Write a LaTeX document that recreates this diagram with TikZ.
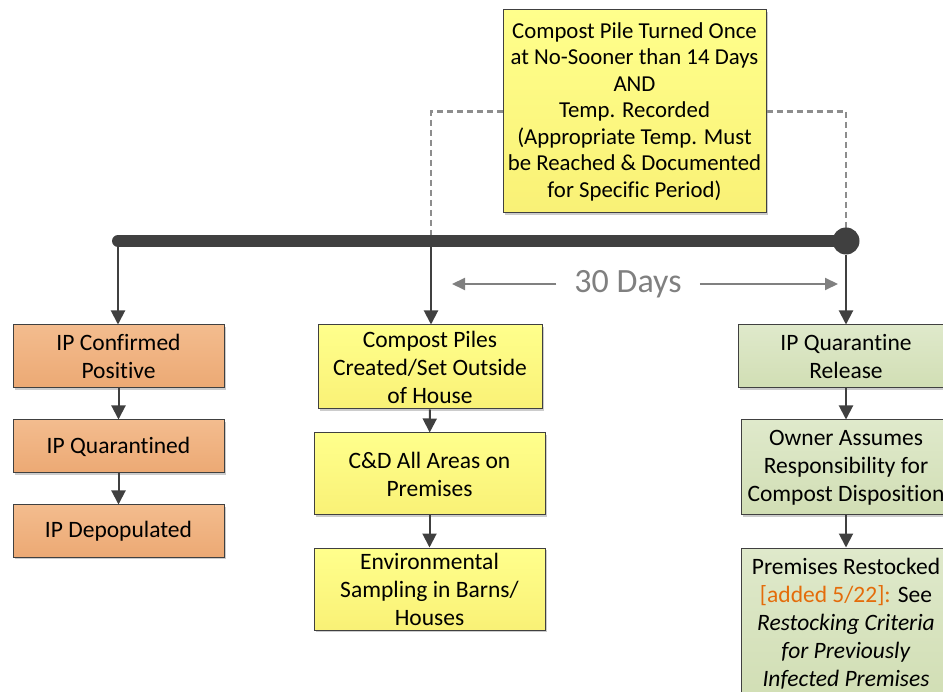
\documentclass[tikz,border=0pt]{standalone}
\usepackage{fontspec}
\setmainfont{Carlito}[Ligatures={NoCommon}]
\usepackage{tikz}
\usetikzlibrary{arrows.meta, positioning, calc, shadows}
\definecolor{LineGray}{HTML}{404040}
\definecolor{SoftGray}{HTML}{808080}
\definecolor{OrangeTop}{HTML}{F3BC8E}
\definecolor{OrangeBot}{HTML}{ECA974}
\definecolor{YellowTop}{HTML}{FFFF8C}
\definecolor{YellowBot}{HTML}{F9F176}
\definecolor{GreenTop}{HTML}{DFE9CB}
\definecolor{GreenBot}{HTML}{D1DEB4}
\definecolor{NoteOrange}{HTML}{E46C0A}
\tikzset{
  stepbox/.style={rectangle, draw=LineGray, line width=1pt, align=center, inner sep=0pt, font=\fontsize{23.5}{28}\selectfont, drop shadow={shadow xshift=2pt, shadow yshift=-2pt, opacity=0.2, fill=black}},
  orangebox/.style={stepbox, top color=OrangeTop, bottom color=OrangeBot},
  yellowbox/.style={stepbox, top color=YellowTop, bottom color=YellowBot},
  greenbox/.style={stepbox, top color=GreenTop, bottom color=GreenBot},
  flowarrow/.style={-{Triangle[length=14pt, width=14pt]}, line width=2pt, LineGray},
  dayarrow/.style={-{Triangle[length=13pt, width=12pt]}, line width=2pt, SoftGray},
  dashline/.style={dash pattern=on 6pt off 4pt, line width=2.8pt, SoftGray!90}
}

\begin{document}
\begin{tikzpicture}[x=1pt, y=-1pt]
  \useasboundingbox (0,0) rectangle (943,692);

  % condition box on top
  \node[yellowbox, minimum width=263pt, minimum height=203pt, font=\fontsize{22.8}{26.5}\selectfont] (turned) at (634.5,111.5) {Compost Pile Turned Once\\at No-Sooner than 14 Days\\AND\\Temp. Recorded\\(Appropriate Temp. Must\\be Reached \& Documented\\for Specific Period)};

  % time line
  \coordinate (barL) at (118,241);
  \coordinate (barM) at (431,241);
  \coordinate (barR) at (846,241);
  \draw[dashline] (turned.west) -| (barM);
  \draw[dashline] (turned.east) -| (barR);
  \draw[LineGray, line width=12pt, line cap=round] (barL) -- (barR);
  \node[circle, fill=LineGray, minimum size=27pt, inner sep=0pt] (endpt) at (barR) {};

  % 30 days
  \coordinate (dayL) at (452,284);
  \coordinate (dayR) at (838,284);
  \node[text=SoftGray, font=\fontsize{34}{40}\selectfont, inner xsep=18pt] (days) at (628,284) {30 Days};
  \draw[dayarrow] (days.west) -- (dayL);
  \draw[dayarrow] (days.east) -- (dayR);

  % left column
  \node[orangebox, minimum width=211pt, minimum height=63pt] (confirmed) at (118.5,356.5) {IP Confirmed\\Positive};
  \node[orangebox, minimum width=211pt, minimum height=53pt] (quarant) at (118.5,446.5) {IP Quarantined};
  \node[orangebox, minimum width=211pt, minimum height=52pt] (depop) at (118.5,531) {IP Depopulated};

  % middle column
  \node[yellowbox, minimum width=224pt, minimum height=84pt] (piles) at (430,367) {Compost Piles\\Created/Set Outside\\of House};
  \node[yellowbox, minimum width=231pt, minimum height=82pt] (cleaning) at (429.5,474) {C\&D All Areas on\\Premises};
  \node[yellowbox, minimum width=231pt, minimum height=82pt] (sampling) at (429.5,589) {Environmental\\Sampling in Barns/\\Houses};

  % right column
  \node[greenbox, minimum width=216pt, minimum height=63pt] (release) at (846,356.5) {IP Quarantine\\Release};
  \node[greenbox, minimum width=210pt, minimum height=95pt] (owner) at (846,467.5) {Owner Assumes\\Responsibility for\\Compost Disposition};
  \node[greenbox, minimum width=210pt, minimum height=152pt] (restock) at (846,624) {Premises Restocked\\{\color{NoteOrange}[added 5/22]:} See\\\textit{Restocking Criteria}\\\textit{for Previously}\\\textit{Infected Premises}};

  % connectors
  \draw[flowarrow] (barL) -- (barL |- confirmed.north);
  \draw[flowarrow] (confirmed) -- (quarant);
  \draw[flowarrow] (quarant) -- (depop);
  \draw[flowarrow] (barM) -- (barM |- piles.north);
  \draw[flowarrow] (piles) -- (cleaning);
  \draw[flowarrow] (cleaning) -- (sampling);
  \draw[flowarrow] (endpt.south) -- (release.north);
  \draw[flowarrow] (release) -- (owner);
  \draw[flowarrow] (owner) -- (restock);
\end{tikzpicture}
\end{document}
